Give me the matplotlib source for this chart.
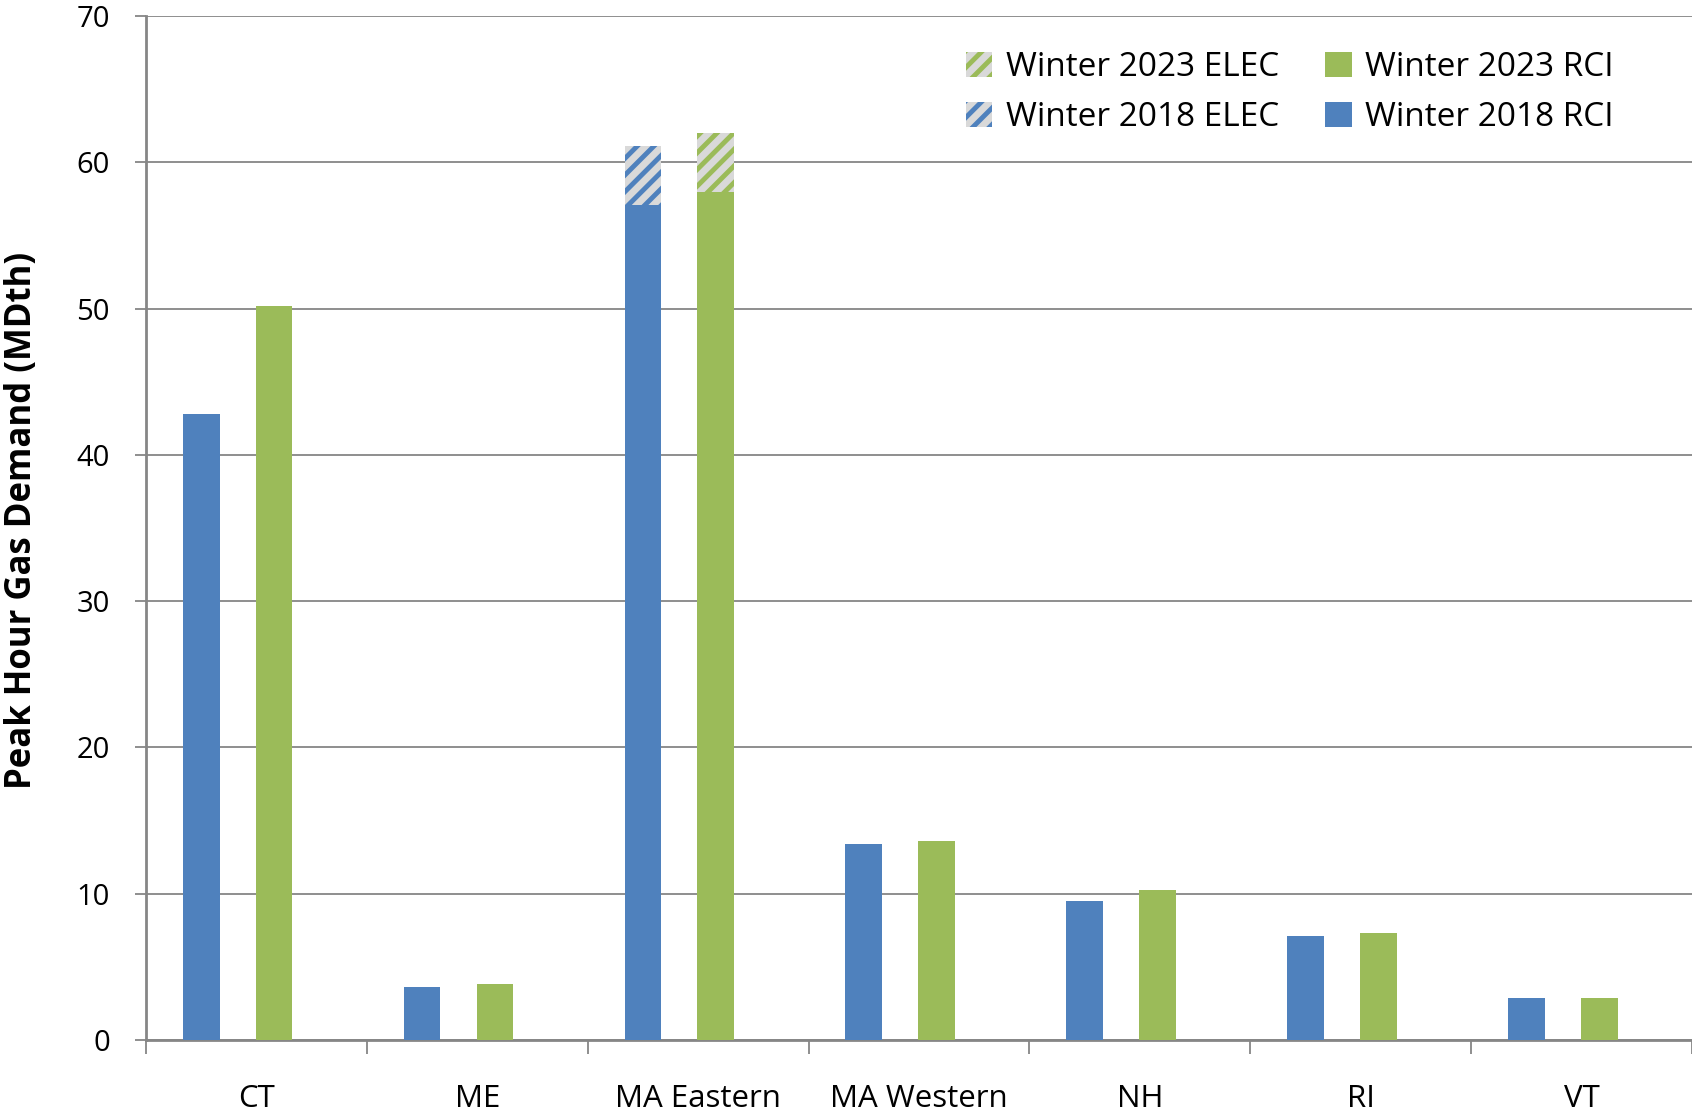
import numpy as np
import matplotlib
matplotlib.use('Agg')
import matplotlib.pyplot as plt

plt.rcParams['font.family'] = ['Open Sans', 'DejaVu Sans']
plt.rcParams['hatch.linewidth'] = 3.5

regions = ['CT', 'ME', 'MA Eastern', 'MA Western', 'NH', 'RI', 'VT']
rci_2018 = [42.8, 3.6, 57.1, 13.4, 9.5, 7.1, 2.9]
elec_2018 = [0, 0, 4.05, 0, 0, 0, 0]
rci_2023 = [50.2, 3.8, 58.0, 13.6, 10.25, 7.3, 2.9]
elec_2023 = [0, 0, 4.0, 0, 0, 0, 0]

blue = '#4f81bd'
green = '#9bbb59'
grey = '#868686'
hatch_bg = '#d9d9d9'

fig = plt.figure(figsize=(16.92, 11.15), dpi=100)
ax = fig.add_axes([0.0863, 0.0673, 0.9137, 0.9182])

x = np.arange(len(regions))
w = 0.166
xb = x + 0.25
xg = x + 0.58

ax.bar(xb, rci_2018, w, color=blue, zorder=3, label='Winter 2018 RCI')
ax.bar(xb, elec_2018, w, bottom=rci_2018, facecolor=hatch_bg, edgecolor=blue,
       hatch='//', linewidth=0, zorder=3, label='Winter 2018 ELEC')
ax.bar(xg, rci_2023, w, color=green, zorder=3, label='Winter 2023 RCI')
ax.bar(xg, elec_2023, w, bottom=rci_2023, facecolor=hatch_bg, edgecolor=green,
       hatch='//', linewidth=0, zorder=3, label='Winter 2023 ELEC')

ax.set_xlim(0, 7)
ax.set_ylim(0, 70)
ax.set_yticks(range(0, 71, 10))
ax.yaxis.grid(True, color=grey, linewidth=1.3, zorder=0)
ax.tick_params(axis='y', length=8, width=1.3, color=grey, pad=18, labelsize=21)

ax.set_xticks(range(0, 8))
ax.set_xticklabels([])
ax.set_xticks(x + 0.5, minor=True)
ax.set_xticklabels(regions, minor=True)
ax.tick_params(axis='x', which='major', length=10, width=1.3, color=grey, direction='out')
ax.tick_params(axis='x', which='minor', length=0, pad=32, labelsize=22.5)

for s in ['top', 'right']:
    ax.spines[s].set_visible(False)
for s in ['left', 'bottom']:
    ax.spines[s].set_color(grey)
    ax.spines[s].set_linewidth(2)

fig.text(0.013, 0.533, 'Peak Hour Gas Demand (MDth)', rotation=90,
         ha='center', va='center', fontsize=25, fontweight='bold')

h, l = ax.get_legend_handles_labels()
order = [3, 1, 2, 0]
ax.legend([h[i] for i in order], [l[i] for i in order], ncol=2,
          loc='upper right', bbox_to_anchor=(0.969, 0.995), frameon=False,
          fontsize=24, handlelength=0.8, handleheight=0.8, handletextpad=0.4,
          columnspacing=1.4, labelspacing=0.5)

fig.savefig('out.png', dpi=100)
